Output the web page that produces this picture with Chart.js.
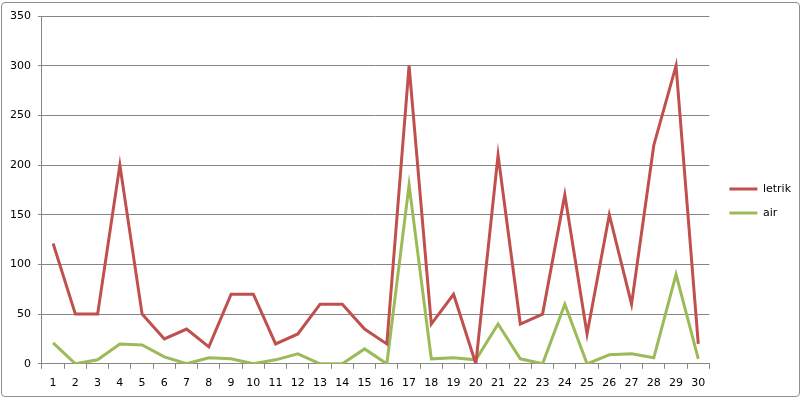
<!DOCTYPE html>
<html>
<head>
<meta charset="utf-8">
<script src="https://cdn.jsdelivr.net/npm/chart.js@4/dist/chart.umd.min.js"></script>
<style>
  html, body { margin: 0; padding: 0; background: #ffffff; }
  #frame {
    position: absolute; left: 1px; top: 2px; width: 797px; height: 393px;
    border: 1px solid #8e8e8e; border-radius: 4px; background: #ffffff;
  }
  #wrap { position: absolute; left: 0; top: 0; width: 804px; height: 400px; }
</style>
</head>
<body>
<div id="frame"></div>
<div id="wrap"><canvas id="myChart" width="804" height="400"></canvas></div>
<script>
/* datos del grafico */
const hari = ['1','2','3','4','5','6','7','8','9','10','11','12','13','14','15',
  '16','17','18','19','20','21','22','23','24','25','26','27','28','29','30'];
const letrik = [121, 50, 50, 200, 50, 25, 35, 17, 70, 70, 20, 30, 60, 60, 35,
  20, 300, 40, 70, 0, 210, 40, 50, 170, 30, 150, 60, 220, 300, 20];
const air = [21, 0, 4, 20, 19, 7, 0, 6, 5, 0, 4, 10, 0, 0, 15,
  0, 180, 5, 6, 4, 40, 5, 0, 60, 0, 9, 10, 6, 90, 5];
const ejeY = [0, 50, 100, 150, 200, 250, 300, 350];

const fuente = { family: 'DejaVu Sans', size: 11 };

// mueve un poco la leyenda, como en el original
const moverLeyenda = {
  id: 'moverLeyenda',
  afterLayout: function(chart) {
    if (chart.legend) {
      chart.legend.left += 7;
      chart.legend.right += 7;
      chart.legend.top -= 6;
      chart.legend.bottom -= 6;
    }
  }
};

const ctx = document.getElementById('myChart').getContext('2d');

let chart = new Chart(ctx, {
  type: 'line',
  data: {
    labels: hari,
    datasets: [
      { label: 'letrik', data: letrik, borderColor: '#C0504D', backgroundColor: '#C0504D',
        borderWidth: 3, pointRadius: 0, tension: 0, fill: false },
      { label: 'air', data: air, borderColor: '#9BBB59', backgroundColor: '#9BBB59',
        borderWidth: 3, pointRadius: 0, tension: 0, fill: false }
    ]
  },
  options: {
    responsive: false,
    animation: false,
    layout: { padding: { left: 3, top: 16, right: 10, bottom: 2 } },
    plugins: {
      tooltip: { enabled: false },
      legend: {
        position: 'right',
        labels: {
          color: '#000',
          font: fuente,
          boxWidth: 28,
          boxHeight: 3,
          padding: 13,
          generateLabels: function(chart) {
            return chart.data.datasets.map(function(ds, i) {
              return { text: ds.label, fillStyle: ds.borderColor, strokeStyle: ds.borderColor,
                lineWidth: 0, datasetIndex: i, fontColor: '#000' };
            });
          }
        }
      }
    },
    scales: {
      x: {
        offset: true,
        grid: { offset: true, drawOnChartArea: false, drawTicks: true, tickLength: 5, color: '#868686' },
        border: { color: '#868686' },
        ticks: { color: '#000', font: fuente, maxRotation: 0, autoSkip: false, padding: 8 }
      },
      y: {
        min: ejeY[0],
        max: ejeY[ejeY.length - 1],
        afterBuildTicks: function(axis) { axis.ticks = ejeY.map(function(v) { return { value: v }; }); },
        grid: { color: '#868686', tickLength: 4 },
        border: { color: '#868686' },
        ticks: { color: '#000', font: fuente, padding: 7 }
      }
    }
  },
  plugins: [moverLeyenda]
});
</script>
</body>
</html>
